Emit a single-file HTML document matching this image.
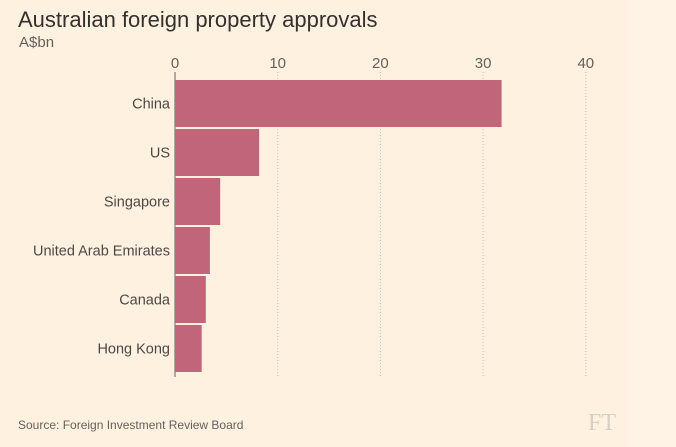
<!DOCTYPE html>
<html><head><meta charset="utf-8"><style>
body{margin:0;width:676px;height:447px;background:#fff1e0;overflow:hidden;font-family:"Liberation Sans",sans-serif;}
svg{display:block}
</style></head><body>
<svg id="chart" width="676" height="447">
<rect x="628" y="0" width="48" height="447" fill="#fff3e6"/>
<text x="18" y="27" font-size="22" fill="#33302e">Australian foreign property approvals</text>
<text x="19" y="47" font-size="15" fill="#66605c">A$bn</text>
<text x="18" y="429" font-size="12" fill="#66605c">Source: Foreign Investment Review Board</text>
<text x="588" y="430" font-size="24" font-family="Liberation Serif,serif" fill="#d8cfc4">FT</text>
<g id="grid"></g><g id="bars"></g><g id="labels"></g>
</svg>
<script>
const categories=["China","US","Singapore","United Arab Emirates","Canada","Hong Kong"];
const values=[31.8,8.2,4.4,3.4,3.0,2.6];
const ticks=[0,10,20,30,40];
const x0=175,pxPer=10.27,top0=80,pitch=49,bh=47;
const sx=v=>x0+v*pxPer;
const ns="http://www.w3.org/2000/svg";
const grid=document.getElementById('grid'),bars=document.getElementById('bars'),labels=document.getElementById('labels');
ticks.forEach(t=>{
 const l=document.createElementNS(ns,'line');
 l.setAttribute('x1',sx(t));l.setAttribute('x2',sx(t));l.setAttribute('y1',72);l.setAttribute('y2',377);
 l.setAttribute('stroke',t===0?'#66605c':'#ccc1b7');l.setAttribute('stroke-width',1);
 if(t!==0)l.setAttribute('stroke-dasharray','1,2');
 
 
 grid.appendChild(l);
 const tx=document.createElementNS(ns,'text');
 tx.setAttribute('x',sx(t));tx.setAttribute('y',68);tx.setAttribute('text-anchor','middle');
 tx.setAttribute('font-size',15);tx.setAttribute('fill','#66605c');tx.textContent=t;
 
 
 grid.appendChild(tx);
});
categories.forEach((c,i)=>{
 const y=top0+i*pitch;
 const r=document.createElementNS(ns,'rect');
 r.setAttribute('x',x0);r.setAttribute('y',y);r.setAttribute('width',sx(values[i])-x0);r.setAttribute('height',bh);
 r.setAttribute('fill','#c1657a');
 
 
 bars.appendChild(r);
 const t=document.createElementNS(ns,'text');
 t.setAttribute('x',170);t.setAttribute('y',y+bh/2+5);t.setAttribute('text-anchor','end');
 t.setAttribute('font-size',14.5);t.setAttribute('fill','#4d4845');t.textContent=c;
 
 
 labels.appendChild(t);
});
</script>
</body></html>
